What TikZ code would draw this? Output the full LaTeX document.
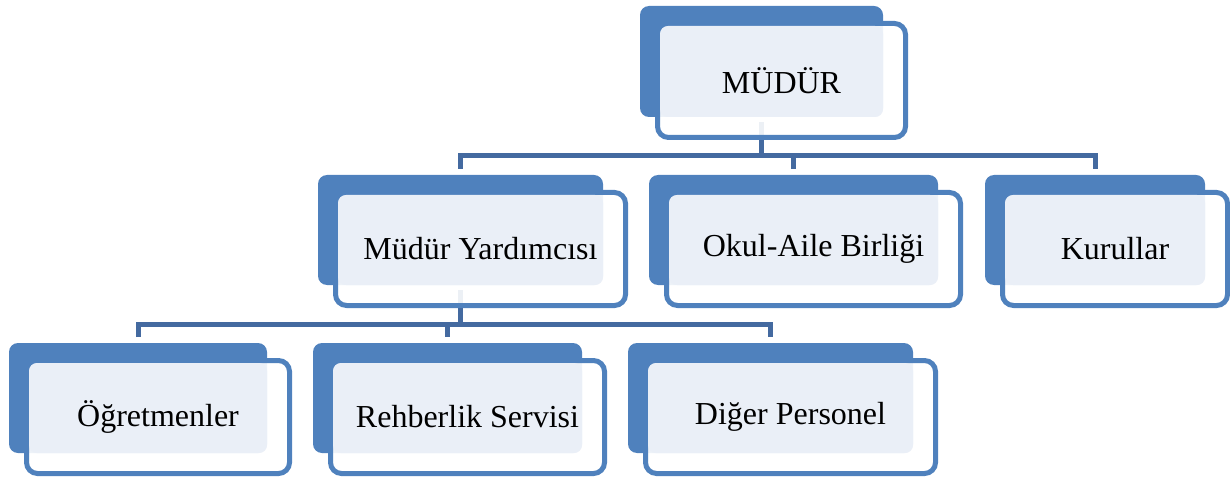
\documentclass[tikz,border=0pt]{standalone}
\usepackage{fontspec}
\setmainfont{Liberation Serif}
\usetikzlibrary{calc,backgrounds}
\definecolor{boxblue}{HTML}{4F81BD}
\definecolor{boxlight}{HTML}{EAEFF7}
\definecolor{linkblue}{HTML}{446AA0}
\begin{document}
\begin{tikzpicture}[x=1pt,y=-1pt]
        \tikzstyle{backbox}=[rounded corners=9pt,fill=boxblue,inner sep=0pt,outer sep=0pt]
        \tikzstyle{frontbox}=[rounded corners=11pt,draw=boxblue,line width=5pt,fill=white,fill opacity=0.9,inner sep=0pt,outer sep=0pt]
        \tikzstyle{lightbox}=[rounded corners=8pt,fill=boxlight]
        \tikzstyle{boxtext}=[font=\fontsize{32}{38}\selectfont,inner sep=0pt]
        \tikzstyle{link}=[draw=linkblue,line width=5pt]
        \useasboundingbox (0,0) rectangle (1230,478);
        \foreach \n/\x/\y/\w/\h/\t in {mud/761.5/61.5/243/111/MÜDÜR,
                myr/460.5/230/285/110/Müdür Yardımcısı,
                oab/793.5/230/289/110/Okul-Aile Birliği,
                kur/1095/230/220/110/Kurullar,
                ogr/138/398/258/110/Öğretmenler,
                reh/447.5/398/269/110/Rehberlik Servisi,
                dig/770.5/398/285/110/Diğer Personel}{
            \node [backbox,minimum width=\w pt,minimum height=\h pt] (\n) at (\x,\y) {};
            \node [frontbox,minimum width={\w pt+5pt},minimum height={\h pt+3pt}] (\n-f) at (\x+20,\y+19) {};
            \path [lightbox] ($(\n-f.north west)+(2.5,2.5)$) rectangle (\n.south east);
            \node [boxtext] (\n-t) at (\n-f) {\t};
        }
        \coordinate (bus1) at (0,155.5);
        \coordinate (bus2) at (0,324.5);
        \begin{pgfonlayer}{background}
            \draw [link,shorten <=5pt] (mud.south) -- (mud.south |- bus1);
            \draw [link,shorten <=6pt,shorten >=6pt] (myr.north) -- (myr.north |- bus1) -- (kur.north |- bus1) -- (kur.north);
            \draw [link,shorten >=6pt] (oab.north |- bus1) -- (oab.north);
            \draw [link,shorten <=5pt] (myr.south) -- (myr.south |- bus2);
            \draw [link,shorten <=6pt,shorten >=6pt] (ogr.north) -- (ogr.north |- bus2) -- (dig.north |- bus2) -- (dig.north);
            \draw [link,shorten >=6pt] (reh.north |- bus2) -- (reh.north);
        \end{pgfonlayer}
\end{tikzpicture}
\end{document}
